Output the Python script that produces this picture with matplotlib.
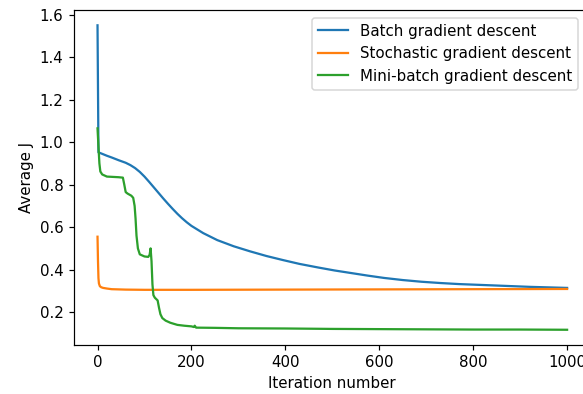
import matplotlib
matplotlib.use("Agg")
import matplotlib.pyplot as plt

# average cost per iteration for the three optimisers
batch_iter = [0, 2, 10, 20, 30, 45, 60, 70, 80, 90, 100, 110, 120, 130, 140, 150, 160, 170,
              180, 190, 200, 225, 255, 290, 325, 360, 395, 430, 470, 505, 540, 575, 610,
              650, 690, 730, 770, 840, 920, 1000]
batch_cost = [1.55, 0.952, 0.945, 0.936, 0.928, 0.915, 0.903, 0.892, 0.878, 0.86, 0.838,
              0.813, 0.787, 0.761, 0.735, 0.71, 0.686, 0.663, 0.642, 0.623, 0.606, 0.572,
              0.539, 0.51, 0.486, 0.464, 0.445, 0.427, 0.41, 0.396, 0.384, 0.372, 0.361,
              0.351, 0.343, 0.337, 0.332, 0.326, 0.319, 0.314]

sgd_iter = [0, 1, 2, 3, 5, 8, 12, 20, 30, 60, 100, 200, 400, 600, 800, 1000]
sgd_cost = [0.555, 0.44, 0.36, 0.335, 0.322, 0.317, 0.314, 0.311, 0.308, 0.306, 0.305,
            0.305, 0.306, 0.307, 0.308, 0.309]

mini_iter = [0, 2, 4, 6, 10, 20, 45, 54, 57, 60, 64, 72, 76, 79, 81, 83, 86, 90, 100, 108,
             111, 113, 115, 117, 119, 122, 128, 131, 134, 138, 145, 155, 170, 185, 200, 205,
             207, 210, 250, 300, 400, 500, 600, 700, 800, 900, 1000]
mini_cost = [1.065, 0.98, 0.9, 0.862, 0.848, 0.838, 0.835, 0.833, 0.8, 0.765, 0.758, 0.748,
             0.738, 0.7, 0.64, 0.56, 0.5, 0.472, 0.462, 0.46, 0.47, 0.5, 0.44, 0.33, 0.28,
             0.268, 0.255, 0.22, 0.19, 0.172, 0.16, 0.15, 0.14, 0.136, 0.133, 0.13, 0.136,
             0.127, 0.126, 0.124, 0.123, 0.121, 0.12, 0.119, 0.118, 0.118, 0.117]

# 108 dpi keeps the 583x394 canvas but scales text and lines up a little
dpi = 108
fig = plt.figure(figsize=(583 / dpi, 394 / dpi), dpi=dpi)
ax = fig.add_axes([0.127, 0.1244, 0.886, 0.850])

ax.plot(batch_iter, batch_cost, label="Batch gradient descent")
ax.plot(sgd_iter, sgd_cost, label="Stochastic gradient descent")
ax.plot(mini_iter, mini_cost, label="Mini-batch gradient descent")

ax.set_xlabel("Iteration number")
ax.set_ylabel("Average J")
ax.set_xticks([0, 200, 400, 600, 800, 1000])
ax.set_yticks([0.2, 0.4, 0.6, 0.8, 1.0, 1.2, 1.4, 1.6])
ax.legend(loc="upper right", bbox_to_anchor=(0.99, 1.0))

fig.savefig("out.png", dpi=dpi)
